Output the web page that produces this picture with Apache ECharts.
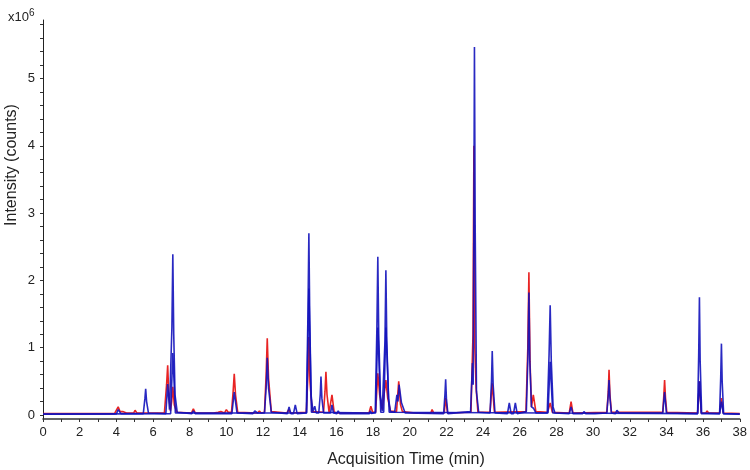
<!DOCTYPE html>
<html>
<head>
<meta charset="utf-8">
<script src="https://cdn.jsdelivr.net/npm/echarts@6/dist/echarts.min.js"></script>
<style>html,body{margin:0;padding:0;background:#fff}#c{width:750px;height:470px}</style>
</head>
<body>
<div id="c"></div>
<script>
// x tick labels (min) and y tick labels (x10^6 counts)
var xTickLabels = [0,2,4,6,8,10,12,14,16,18,20,22,24,26,28,30,32,34,36,38];
var yTickLabels = [0,1,2,3,4,5];

// red trace: [time (min), intensity (x10^6)]
var redTrace = [
 [0,0.02],[3.9,0.02],[4.0,0.03],[4.1,0.12],[4.2,0.05],[4.35,0.05],[4.55,0.03],
 [4.95,0.03],[5.02,0.07],[5.12,0.03],
 [6.62,0.03],[6.74,0.45],[6.8,0.74],[6.86,0.3],[6.95,0.06],[7.02,0.2],[7.08,0.42],[7.16,0.15],[7.3,0.04],
 [8.1,0.03],[8.2,0.09],[8.3,0.03],
 [9.3,0.03],[9.4,0.05],[9.55,0.04],[9.7,0.05],[9.8,0.03],[9.9,0.03],[10.0,0.08],[10.1,0.04],
 [10.28,0.04],[10.37,0.35],[10.43,0.61],[10.5,0.3],[10.62,0.04],
 [11.7,0.03],[11.8,0.06],[11.9,0.03],
 [12.08,0.04],[12.17,0.6],[12.23,1.14],[12.3,0.55],[12.45,0.05],
 [13.3,0.03],[13.4,0.08],[13.5,0.03],
 [14.36,0.04],[14.45,0.6],[14.5,1.16],[14.56,0.5],[14.68,0.05],
 [15.3,0.04],[15.38,0.35],[15.43,0.64],[15.49,0.3],[15.6,0.04],
 [15.66,0.04],[15.76,0.30],[15.88,0.04],
 [16.1,0.03],[16.15,0.05],[16.25,0.03],
 [17.78,0.03],[17.88,0.13],[17.98,0.04],
 [18.14,0.04],[18.26,0.62],[18.36,0.3],[18.5,0.08],[18.6,0.1],[18.7,0.52],[18.8,0.25],[18.95,0.06],
 [19.28,0.05],[19.4,0.50],[19.5,0.15],[19.6,0.05],
 [20.3,0.03],[20.4,0.04],[20.5,0.03],
 [21.15,0.03],[21.22,0.08],[21.3,0.03],
 [21.88,0.03],[21.96,0.25],[22.06,0.03],
 [23.34,0.04],[23.45,1.2],[23.5,4.0],[23.55,1.0],[23.62,0.4],[23.72,0.04],
 [24.38,0.04],[24.5,0.47],[24.62,0.04],
 [26.34,0.05],[26.44,1.0],[26.5,2.12],[26.56,0.8],[26.64,0.12],[26.74,0.30],[26.88,0.05],
 [27.52,0.04],[27.66,0.18],[27.78,0.04],
 [28.7,0.03],[28.8,0.20],[28.9,0.03],
 [30.75,0.04],[30.83,0.35],[30.87,0.67],[30.92,0.3],[31.0,0.04],
 [33.8,0.04],[33.86,0.3],[33.9,0.52],[33.95,0.25],[34.02,0.04],
 [35.7,0.03],[35.8,0.50],[35.9,0.03],
 [36.15,0.03],[36.22,0.06],[36.3,0.03],
 [36.9,0.03],[37.0,0.25],[37.1,0.03],
 [38,0.02]
];

// main blue trace
var blueTraceA = [
 [0,0.015],[4.0,0.015],[4.1,0.08],[4.25,0.02],
 [5.47,0.02],[5.56,0.25],[5.6,0.39],[5.65,0.2],[5.75,0.03],
 [6.7,0.02],[6.8,0.46],[6.9,0.08],[6.96,0.1],[7.03,1.3],[7.08,2.39],[7.13,1.2],[7.2,0.3],[7.32,0.04],
 [8.12,0.02],[8.2,0.06],[8.3,0.02],
 [10.3,0.02],[10.43,0.34],[10.58,0.03],
 [11.45,0.02],[11.55,0.06],[11.7,0.03],
 [12.08,0.03],[12.18,0.45],[12.23,0.85],[12.3,0.4],[12.45,0.04],
 [13.33,0.02],[13.42,0.12],[13.52,0.02],[13.66,0.02],[13.76,0.15],[13.86,0.02],
 [14.36,0.03],[14.45,1.5],[14.5,2.70],[14.55,1.4],[14.62,0.3],[14.72,0.05],
 [14.76,0.04],[14.82,0.13],[14.9,0.03],
 [15.04,0.03],[15.12,0.3],[15.16,0.57],[15.21,0.25],[15.3,0.03],
 [15.68,0.03],[15.76,0.15],[15.84,0.03],
 [16.03,0.02],[16.1,0.06],[16.18,0.02],
 [17.8,0.02],[17.86,0.06],[17.92,0.02],
 [18.12,0.04],[18.21,1.3],[18.26,2.35],[18.31,1.2],[18.4,0.3],[18.5,0.06],
 [18.56,0.06],[18.65,1.1],[18.7,2.15],[18.75,1.1],[18.84,0.25],[18.95,0.05],
 [19.18,0.04],[19.3,0.30],[19.36,0.2],[19.42,0.45],[19.55,0.18],[19.62,0.2],[19.75,0.03],
 [21.85,0.02],[21.92,0.3],[21.96,0.53],[22.0,0.25],[22.08,0.02],
 [23.32,0.05],[23.42,0.77],[23.46,0.45],[23.5,3.0],[23.53,5.47],[23.57,2.8],[23.64,0.35],[23.76,0.04],
 [24.38,0.03],[24.46,0.5],[24.5,0.95],[24.55,0.45],[24.65,0.03],
 [25.33,0.02],[25.43,0.18],[25.53,0.02],[25.66,0.02],[25.76,0.18],[25.86,0.02],
 [26.36,0.05],[26.45,0.9],[26.5,1.82],[26.55,0.8],[26.64,0.12],[26.75,0.1],[26.88,0.03],
 [27.5,0.03],[27.6,0.9],[27.66,1.63],[27.72,0.8],[27.82,0.12],[27.92,0.03],
 [28.7,0.02],[28.8,0.12],[28.9,0.02],
 [29.43,0.02],[29.5,0.05],[29.6,0.02],[29.93,0.02],[30.0,0.04],[30.1,0.02],
 [30.75,0.03],[30.83,0.3],[30.87,0.52],[30.92,0.25],[31.0,0.03],
 [31.22,0.02],[31.3,0.07],[31.42,0.03],
 [33.8,0.03],[33.9,0.34],[34.0,0.03],
 [35.7,0.02],[35.76,0.9],[35.8,1.75],[35.84,0.8],[35.92,0.03],
 [36.9,0.02],[36.96,0.55],[37.0,1.06],[37.04,0.5],[37.12,0.02],
 [38,0.015]
];

// second blue trace
var blueTraceB = [
 [0,0.01],
 [6.96,0.02],[7.08,0.92],[7.22,0.03],
 [14.38,0.03],[14.5,1.88],[14.64,0.04],
 [18.14,0.03],[18.26,1.30],[18.42,0.04],[18.58,0.04],[18.7,1.30],[18.88,0.04],
 [27.54,0.03],[27.66,0.79],[27.8,0.03],
 [35.7,0.02],[35.8,0.50],[35.9,0.02],
 [36.9,0.02],[37.0,0.20],[37.1,0.02],
 [38,0.01]
];

var yMinorTicks = [];
for (var i = 0; i <= 29; i++) { yMinorTicks.push(+(i * 0.2).toFixed(1)); }

var RED = '#e82424';
var BLUE = '#1212bb';
var FONT = 'Liberation Sans, Arial, sans-serif';

var chart = echarts.init(document.getElementById('c'), null, {renderer: 'canvas'});
chart.setOption({
  animation: false,
  backgroundColor: '#fff',
  grid: {left: 43, right: 8, top: 20, bottom: 51, containLabel: false},
  xAxis: {
    type: 'value', min: 0, max: 38, interval: 2,
    axisLine: {onZero: false, lineStyle: {color: '#333', width: 1.6}},
    axisTick: {show: true, length: 3, lineStyle: {color: '#333'}},
    minorTick: {show: true, splitNumber: 2, length: 3, lineStyle: {color: '#333'}},
    splitLine: {show: false},
    axisLabel: {
      color: '#222', fontSize: 13, fontFamily: FONT, margin: 7,
      customValues: xTickLabels
    }
  },
  yAxis: {
    type: 'value', min: -0.06, max: 5.87,
    axisLine: {show: true, lineStyle: {color: '#222', width: 1}},
    axisTick: {show: true, length: 3, customValues: yMinorTicks, lineStyle: {color: '#333'}},
    splitLine: {show: false},
    axisLabel: {
      color: '#222', fontSize: 13, fontFamily: FONT, margin: 8,
      customValues: yTickLabels
    }
  },
  graphic: [
    {type: 'text', left: 8, top: 8, style: {
      rich: {b: {fontSize: 13, fontFamily: FONT, fill: '#222'}, s: {fontSize: 10, fontFamily: FONT, fill: '#222', verticalAlign: 'top', padding: [0,0,8,0]}},
      text: '{b|x10}{s|6}'
    }},
    {type: 'text', x: 406, y: 460, style: {
      text: 'Acquisition Time (min)', font: '16px ' + FONT, fill: '#222',
      textAlign: 'center', textVerticalAlign: 'middle'
    }},
    {type: 'text', x: 12, y: 165, rotation: Math.PI / 2, style: {
      text: 'Intensity (counts)', font: '16px ' + FONT, fill: '#222',
      textAlign: 'center', textVerticalAlign: 'middle'
    }}
  ],
  series: [
    {type: 'line', data: redTrace, showSymbol: false, symbol: 'none',
     lineStyle: {color: RED, width: 1.6}, z: 2},
    {type: 'line', data: blueTraceB, showSymbol: false, symbol: 'none',
     lineStyle: {color: BLUE, width: 1.6, opacity: 0.9}, z: 3},
    {type: 'line', data: blueTraceA, showSymbol: false, symbol: 'none',
     lineStyle: {color: BLUE, width: 1.6, opacity: 0.9}, z: 4}
  ]
});
</script>
</body>
</html>
